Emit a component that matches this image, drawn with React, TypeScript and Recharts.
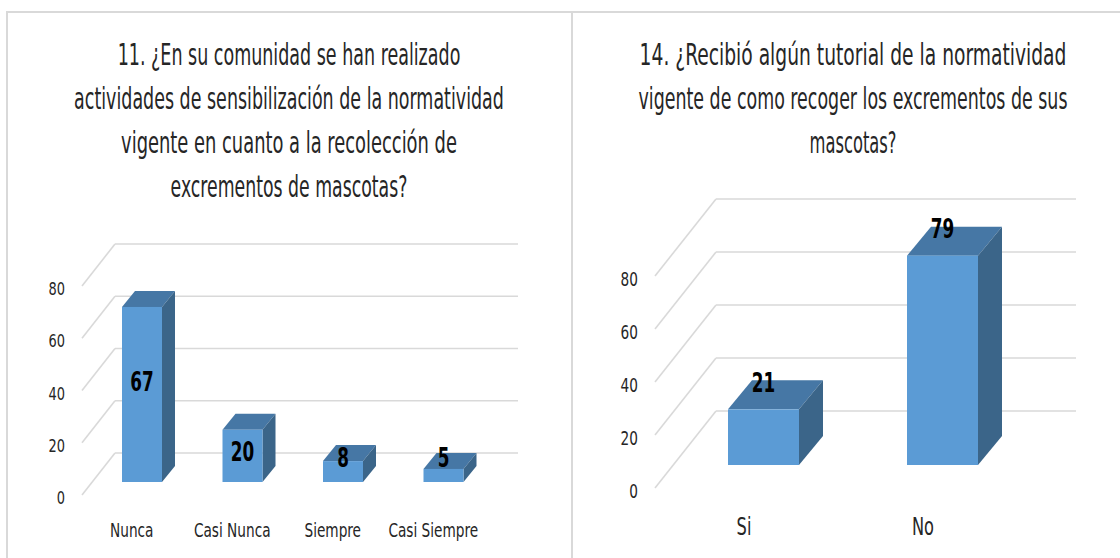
import React, { useLayoutEffect, useRef, useState } from "react"
import { BarChart, Bar, XAxis, YAxis, CartesianGrid } from "recharts"

// encuesta 11
const categories11 = ["Nunca", "Casi Nunca", "Siempre", "Casi Siempre"]
const values11 = [67, 20, 8, 5]
const title11 = [
  "11. ¿En su comunidad se han realizado",
  "actividades de sensibilización de la normatividad",
  "vigente en cuanto a la recolección de",
  "excrementos de mascotas?",
]

// encuesta 14
const categories14 = ["Si", "No"]
const values14 = [21, 79]
const title14 = [
  "14. ¿Recibió algún tutorial de la normatividad",
  "vigente de como recoger los excrementos de sus",
  "mascotas?",
]

const yTicks = [0, 20, 40, 60, 80]

const FONT = '"Liberation Sans Narrow", "DejaVu Sans Condensed", "Arial Narrow", sans-serif'
const FRONT = "#5b9bd5"
const TOP = "#4677a5"
const SIDE = "#3b6589"
const GRID = "#d9d9d9"
const TEXT = "#262626"

const H = 558

const left11 = {
  left: 0,
  width: 571,
  plot: { left: 92, right: 494, top: 273, bottom: 482 },
  depth: { dx: 13, dy: 16 },
  back: { dx: 23, dy: 29, ext: 24 },
  front: { dx: -10, dy: 13 },
  yLabelDx: -27,
  yLabelDy: 16,
  yFont: 18,
  yScale: 0.8,
  xLabelDx: -10.5,
  xLabelDy: 48,
  xFont: 19,
  xScale: 0.8,
  barSize: 40,
  labelMode: "inside",
  title: { center: 289, baselines: [65, 109, 153, 197], widths: [343, 430, 336, 237] },
}

const right14 = {
  left: 572,
  width: 548,
  plot: { left: 102, right: 460, top: 253, bottom: 465 },
  depth: { dx: 24, dy: 29 },
  back: { dx: 42, dy: 54, ext: 44 },
  front: { dx: -19, dy: 23 },
  yLabelDx: -36,
  yLabelDy: 26,
  yFont: 19,
  yScale: 0.8,
  xLabelDx: -19.5,
  xLabelDy: 62,
  xFont: 24,
  xScale: 0.75,
  barSize: 71,
  labelMode: "top",
  title: { center: 281, baselines: [65, 109, 153], widths: [427, 429, 87] },
}

// texto centrado que se estira/encoge en x hasta un ancho dado
function FitText({ x, y, width, children, ...rest }: any) {
  const ref = useRef<SVGTextElement>(null)
  const [sx, setSx] = useState(1)
  useLayoutEffect(() => {
    const n = ref.current ? ref.current.getComputedTextLength() : 0
    if (n > 0) setSx(width / n)
  }, [width, children])
  return (
    <text ref={ref} transform={`translate(${x},${y}) scale(${sx},1)`} textAnchor="middle" {...rest}>
      {children}
    </text>
  )
}

function Chart3D({ cfg, names, values, title }: any) {
  const data = names.map((name: string, i: number) => ({ name, value: values[i] }))
  const { plot, depth, back, front } = cfg

  const gridLine = (p: any) => (
    <g key={p.key}>
      <line x1={p.x1 + back.dx} y1={p.y1 - back.dy} x2={p.x2 + back.ext} y2={p.y1 - back.dy} stroke={GRID} strokeWidth={1.6} />
      <line x1={p.x1 + front.dx} y1={p.y1 + front.dy} x2={p.x1 + back.dx} y2={p.y1 - back.dy} stroke={GRID} strokeWidth={1.6} />
    </g>
  )

  const box = (p: any) => {
    const { x, y, width: w, height: h, payload } = p
    const { dx, dy } = depth
    const cx = x + w / 2
    let ly
    if (cfg.labelMode === "top") ly = y - 27
    else ly = Math.min(y + h / 2 - h * 0.071, y + h - 24)
    return (
      <g>
        <polygon points={`${x},${y} ${x + dx},${y - dy} ${x + w + dx},${y - dy} ${x + w},${y}`} fill={TOP} />
        <polygon points={`${x + w},${y} ${x + w + dx},${y - dy} ${x + w + dx},${y + h - dy} ${x + w},${y + h}`} fill={SIDE} />
        <rect x={x} y={y} width={w} height={h} fill={FRONT} />
        <text
          transform={`translate(${cx},${ly}) scale(0.85,1.2)`}
          textAnchor="middle"
          dominantBaseline="central"
          fontFamily={FONT}
          fontWeight="bold"
          fontSize={22}
          fill="#000"
        >
          {payload.value}
        </text>
      </g>
    )
  }

  return (
    <div style={{ position: "absolute", left: cfg.left, top: 0, width: cfg.width, height: H }}>
      <svg width={cfg.width} height={220} style={{ position: "absolute", left: 0, top: 0 }}>
        {title.map((line: string, i: number) => (
          <FitText
            key={i}
            x={cfg.title.center}
            y={cfg.title.baselines[i]}
            width={cfg.title.widths[i]}
            fontFamily={FONT}
            fontSize={30}
            fill={TEXT}
          >
            {line}
          </FitText>
        ))}
      </svg>
      <div style={{ position: "absolute", left: 0, top: 0 }}>
        <BarChart
          width={cfg.width}
          height={H}
          data={data}
          barSize={cfg.barSize}
          margin={{ top: plot.top, bottom: H - plot.bottom - 30, left: plot.left - 30, right: cfg.width - plot.right }}
        >
          <CartesianGrid vertical={false} horizontal={gridLine} />
          <XAxis
            dataKey="name"
            height={30}
            axisLine={false}
            tickLine={false}
            interval={0}
            tick={(p: any) => (
              <text
                key={p.index}
                transform={`translate(${p.x + cfg.xLabelDx},${plot.bottom + cfg.xLabelDy}) scale(${cfg.xScale},1)`}
                textAnchor="middle"
                dominantBaseline="central"
                fontFamily={FONT}
                fontSize={cfg.xFont}
                fill={TEXT}
              >
                {p.payload.value}
              </text>
            )}
          />
          <YAxis
            width={30}
            domain={[0, 80]}
            ticks={yTicks}
            axisLine={false}
            tickLine={false}
            tick={(p: any) => (
              <text
                key={p.index}
                transform={`translate(${plot.left + cfg.yLabelDx},${p.y + cfg.yLabelDy}) scale(${cfg.yScale},1)`}
                textAnchor="end"
                dominantBaseline="central"
                fontFamily={FONT}
                fontSize={cfg.yFont}
                fill={TEXT}
              >
                {p.payload.value}
              </text>
            )}
          />
          <Bar dataKey="value" isAnimationActive={false} shape={box} />
        </BarChart>
      </div>
    </div>
  )
}

export default function App() {
  return (
    <div style={{ position: "absolute", left: 0, top: 0, width: 1120, height: H, background: "#fff", overflow: "hidden" }}>
      {/* marcos de los paneles */}
      <div style={{ position: "absolute", left: 6, top: 11, width: 1120, height: 2, background: GRID }} />
      <div style={{ position: "absolute", left: 6, top: 11, width: 2, height: H, background: GRID }} />
      <div style={{ position: "absolute", left: 571, top: 11, width: 2, height: H, background: GRID }} />
      <Chart3D cfg={left11} names={categories11} values={values11} title={title11} />
      <Chart3D cfg={right14} names={categories14} values={values14} title={title14} />
    </div>
  )
}
